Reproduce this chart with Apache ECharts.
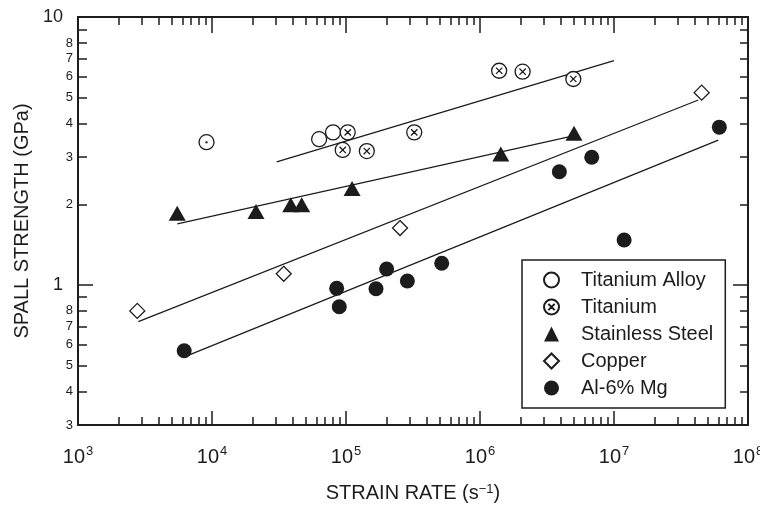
<!DOCTYPE html>
<html><head><meta charset="utf-8">
<script src="https://cdn.jsdelivr.net/npm/echarts@6/dist/echarts.min.js"></script>
<style>html,body{margin:0;padding:0;background:#fff}#c{width:760px;height:505px}</style>
</head><body><div id="c"></div>
<script>
// ---- data (strain rate s^-1, spall strength GPa) ----
const tiAlloy = [[9100, 3.41], [63000, 3.50], [80000, 3.71]];
const titanium = [[94500, 3.19], [103000, 3.71], [143000, 3.16], [323000, 3.71], [1390000, 6.30], [2080000, 6.25], [4970000, 5.87]];
const stainless = [[5500, 1.85], [21300, 1.88], [38700, 1.99], [46700, 1.99], [111000, 2.29], [1430000, 3.08], [5030000, 3.68]];
const copper = [[2770, 0.80], [34300, 1.10], [253000, 1.63], [45100000, 5.22]];
const alMg = [[6200, 0.568], [85200, 0.971], [89100, 0.829], [167500, 0.968], [201000, 1.147], [287000, 1.034], [518000, 1.204], [3910000, 2.646], [6820000, 2.995], [11900000, 1.471], [61100000, 3.88]];
// fitted trend lines (end points)
const titaniumFit = [[30400, 2.88], [10000000, 6.87]];
const stainlessFit = [[5510, 1.69], [4970000, 3.60]];
const copperFit = [[2820, 0.729], [42600000, 4.90]];
const alMgFit = [[6290, 0.540], [60000000, 3.47]];
// series names
const seriesNames = ['Titanium Alloy', 'Titanium', 'Stainless Steel', 'Copper', 'Al-6% Mg'];
// tick labels
const xDecades = [3, 4, 5, 6, 7, 8];           // 10^3 ... 10^8
const minorMults = [2, 3, 4, 5, 6, 7, 8, 9];
const yMajorVals = [1, 10];
const yMinorLabelVals = [0.3, 0.4, 0.5, 0.6, 0.7, 0.8, 2, 3, 4, 5, 6, 7, 8];
const yMinorTickVals = [0.4, 0.5, 0.6, 0.7, 0.8, 0.9, 2, 3, 4, 5, 6, 7, 8, 9];
const xTitle = 'STRAIN RATE (s{s|\u22121})';
const yTitle = 'SPALL STRENGTH (GPa)';

// ---- chart ----
const ink = '#1c1c1c';
const FONT = '"Liberation Sans", Arial, Helvetica, sans-serif';
const xMin = 1e3, xMax = 1e8, yMin = 0.3, yMax = 10;
const lx = Math.log10;
const xMinorExp = [];
xDecades.slice(0, -1).forEach(d => minorMults.forEach(m => xMinorExp.push(d + lx(m))));
const yMinorTickExp = yMinorTickVals.map(lx);
const yMinorLabelExp = yMinorLabelVals.map(lx);
const yMajorExp = yMajorVals.map(lx);
const tickStyle = { color: ink, width: 1.5 };

function tickAxis(pos, min, max, ticks, len, extra) {
  return Object.assign({
    type: 'value', position: pos, min: min, max: max, gridIndex: 0,
    axisLine: { show: false, onZero: false, lineStyle: { color: ink, width: 2 } },
    axisTick: { show: true, inside: true, length: len, customValues: ticks, lineStyle: tickStyle },
    axisLabel: { show: false },
    splitLine: { show: false },
    axisPointer: { show: false }
  }, extra || {});
}

const chart = echarts.init(document.getElementById('c'), null, { renderer: 'canvas' });
const option = {
  animation: false,
  backgroundColor: '#fff',
  textStyle: { fontFamily: FONT, color: ink },
  grid: { left: 78, right: 12, top: 17, bottom: 80, containLabel: false, outerBoundsMode: 'none' },
  xAxis: [
    {
      type: 'log', logBase: 10, min: xMin, max: xMax, position: 'bottom',
      axisLine: { onZero: false, lineStyle: { color: ink, width: 2 } },
      axisTick: { show: false }, axisLabel: { show: false }, splitLine: { show: false },
      name: xTitle, nameLocation: 'middle', nameGap: 58,
      nameTextStyle: { fontFamily: FONT, fontSize: 20, color: ink,
        rich: { s: { fontFamily: FONT, fontSize: 13, color: ink, verticalAlign: 'top', lineHeight: 13 } } }
    },
    tickAxis('bottom', lx(xMin), lx(xMax), xDecades, 14, {
      axisLabel: {
        show: true, customValues: xDecades, margin: 20,
        formatter: v => '{n|10}{s|' + Math.round(v) + '}',
        rich: {
          n: { fontFamily: FONT, fontSize: 20, color: ink, lineHeight: 22, verticalAlign: 'bottom' },
          s: { fontFamily: FONT, fontSize: 13, color: ink, lineHeight: 13, verticalAlign: 'top', padding: [0, 0, 0, 1] }
        }
      }
    }),
    tickAxis('bottom', lx(xMin), lx(xMax), xMinorExp, 8),
    tickAxis('top', lx(xMin), lx(xMax), xDecades, 16, { axisLine: { show: true, onZero: false, lineStyle: { color: ink, width: 2 } } }),
    tickAxis('top', lx(xMin), lx(xMax), xMinorExp, 8)
  ],
  yAxis: [
    {
      type: 'log', logBase: 10, min: yMin, max: yMax, position: 'left',
      axisLine: { onZero: false, lineStyle: { color: ink, width: 2 } },
      axisTick: { show: false }, axisLabel: { show: false }, splitLine: { show: false },
      name: yTitle, nameLocation: 'middle', nameGap: 46,
      nameTextStyle: { fontFamily: FONT, fontSize: 20, color: ink }
    },
    tickAxis('left', lx(yMin), lx(yMax), yMajorExp, 15, {
      axisLabel: { show: true, customValues: yMajorExp, margin: 15, fontFamily: FONT, fontSize: 18, color: ink,
        formatter: v => String(Math.round(Math.pow(10, v))) }
    }),
    tickAxis('left', lx(yMin), lx(yMax), yMinorTickExp, 9, {
      axisLabel: { show: true, customValues: yMinorLabelExp, margin: 5, fontFamily: FONT, fontSize: 13, color: ink,
        formatter: v => { const d = Math.floor(v + 1e-9); return String(Math.round(Math.pow(10, v) / Math.pow(10, d))); } }
    }),
    tickAxis('right', lx(yMin), lx(yMax), yMajorExp, 15, { axisLine: { show: true, onZero: false, lineStyle: { color: ink, width: 2 } } }),
    tickAxis('right', lx(yMin), lx(yMax), yMinorTickExp, 8)
  ],
  legend: {
    data: seriesNames,
    orient: 'vertical', left: 522, top: 260,
    padding: [10, 12, 10, 21],
    itemWidth: 15, itemHeight: 15, itemGap: 7,
    borderColor: ink, borderWidth: 1.5, borderRadius: 0,
    selectedMode: false,
    formatter: n => '{t|' + n + '}',
    textStyle: { fontFamily: FONT, fontSize: 20, color: ink,
      rich: { t: { fontFamily: FONT, fontSize: 20, color: ink, padding: [0, 0, 0, 17] } } }
  },
  series: [
    { type: 'line', data: titaniumFit, symbol: 'none', silent: true, lineStyle: { color: ink, width: 1.3 }, z: 1 },
    { type: 'line', data: stainlessFit, symbol: 'none', silent: true, lineStyle: { color: ink, width: 1.3 }, z: 1 },
    { type: 'line', data: copperFit, symbol: 'none', silent: true, lineStyle: { color: ink, width: 1.3 }, z: 1 },
    { type: 'line', data: alMgFit, symbol: 'none', silent: true, lineStyle: { color: ink, width: 1.3 }, z: 1 },
    { name: seriesNames[0], type: 'scatter', data: tiAlloy, symbol: 'circle', symbolSize: 15,
      itemStyle: { color: '#fff', borderColor: ink, borderWidth: 1.3, opacity: 1 }, z: 3 },
    { name: seriesNames[1], type: 'scatter', data: titanium,
      symbol: 'path://M20,10A10,10,0,1,1,0,10A10,10,0,1,1,20,10ZM5.8,5.8L14.2,14.2M14.2,5.8L5.8,14.2',
      symbolSize: 15, symbolKeepAspect: true,
      itemStyle: { color: '#fff', borderColor: ink, borderWidth: 1.3, opacity: 1 }, z: 3 },
    { name: seriesNames[2], type: 'scatter', data: stainless, symbol: 'triangle', symbolSize: [17, 15],
      itemStyle: { color: ink, opacity: 1 }, z: 3 },
    { name: seriesNames[3], type: 'scatter', data: copper, symbol: 'diamond', symbolSize: 15,
      itemStyle: { color: '#fff', borderColor: ink, borderWidth: 1.3, opacity: 1 }, z: 3 },
    { name: seriesNames[4], type: 'scatter', data: alMg, symbol: 'circle', symbolSize: 15,
      itemStyle: { color: ink, opacity: 1 }, z: 3 },
    { name: 'center dot', type: 'scatter', data: [tiAlloy[0]], symbol: 'circle', symbolSize: 2.5, silent: true,
      itemStyle: { color: ink }, z: 4 }
  ]
};
chart.setOption(option);
</script></body></html>
